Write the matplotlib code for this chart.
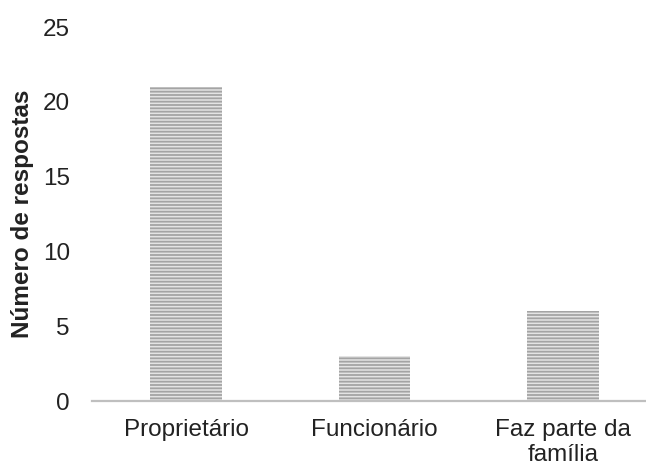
import matplotlib
matplotlib.use('Agg')
from matplotlib import pyplot as plt

plt.rcParams['font.family'] = ['Liberation Sans', 'DejaVu Sans']
plt.rcParams['hatch.linewidth'] = 1.3

# respostas por categoria
categorias = ['Proprietário', 'Funcionário', 'Faz parte da\nfamília']
respostas = [21, 3, 6]
y_ticks = [0, 5, 10, 15, 20, 25]

fig = plt.figure(figsize=(6.46, 4.65), dpi=100)
ax = fig.add_axes([92 / 646, 64 / 465, 565 / 646, 374 / 465])

pos = list(range(len(categorias)))
ax.bar(pos, respostas, width=0.38, color='#e4e4e4', edgecolor='#a4a4a4',
       linewidth=0, hatch='-----', zorder=2)

ax.set_xlim(-0.5, 2.5)
ax.set_ylim(0, 25)
ax.set_yticks(y_ticks)
ax.set_xticks(pos)
ax.set_xticklabels(categorias, fontsize=17.5, color='#222222', linespacing=1.15)
ax.tick_params(axis='y', length=0, pad=16, labelsize=17.5, labelcolor='#222222')
ax.tick_params(axis='x', length=0, pad=13)

for s in ['top', 'right', 'left']:
    ax.spines[s].set_visible(False)
ax.spines['bottom'].set_color('#bfbfbf')
ax.spines['bottom'].set_linewidth(1.6)

ax.set_ylabel('Número de respostas', fontsize=17.5, fontweight='bold',
              color='#222222', labelpad=6)

fig.savefig('out.png', dpi=100)
